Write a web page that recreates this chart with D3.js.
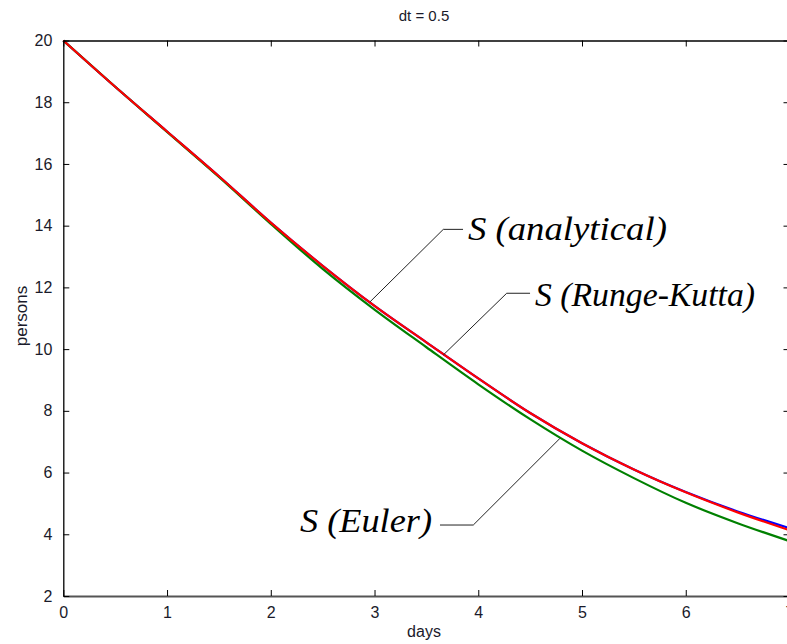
<!DOCTYPE html>
<html>
<head>
<meta charset="utf-8">
<script src="https://cdn.jsdelivr.net/npm/d3@7"></script>
<style>
  html, body { margin: 0; padding: 0; background: #fff; }
  svg { display: block; }
</style>
</head>
<body>
<svg id="chart" width="787" height="644"></svg>
<script>
// Time grid (days), step dt = 0.5
const days = [0, 0.5, 1, 1.5, 2, 2.5, 3, 3.5, 4, 4.5, 5, 5.5, 6, 6.5, 7];

// Susceptible persons S(t) for each method
const sAnalytical = [20, 18.5, 17.05, 15.6, 14.1, 12.7, 11.4, 10.22, 9.05, 7.93, 6.95, 6.10, 5.37, 4.74, 4.20];
const sRungeKutta = [20, 18.5, 17.05, 15.6, 14.1, 12.7, 11.4, 10.22, 9.05, 7.93, 6.95, 6.10, 5.36, 4.71, 4.13];
const sEuler      = [20, 18.5, 17.04, 15.58, 14.06, 12.6, 11.28, 10.06, 8.86, 7.73, 6.71, 5.82, 5.02, 4.36, 3.78];

const xTicks = [0, 1, 2, 3, 4, 5, 6, 7];
const yTicks = [2, 4, 6, 8, 10, 12, 14, 16, 18, 20];

// Callout labels: point on curve, elbow of the leader, text anchor (data units)
const callouts = [
  { text: "S (analytical)",  tip: [2.956, 11.53], elbow: [3.663, 13.88], lineEnd: [3.853, 13.88], textAt: [3.90, 13.53], anchor: "start" },
  { text: "S (Runge-Kutta)", tip: [3.663, 9.81],  elbow: [4.274, 11.81], lineEnd: [4.499, 11.81], textAt: [4.547, 11.40], anchor: "start" },
  { text: "S (Euler)",       tip: [4.788, 7.11],  elbow: [3.952, 4.30],  lineEnd: [3.631, 4.30],  textAt: [3.554, 4.09],  anchor: "end" }
];

// Rendered width of each callout label (px)
const calloutWidth = { "S (analytical)": 199, "S (Runge-Kutta)": 220, "S (Euler)": 132 };

const svg = d3.select("#chart");

const x = d3.scaleLinear().domain([0, 7]).range([63.3, 789.5]);
const y = d3.scaleLinear().domain([2, 20]).range([596, 40.5]);

const xLeft = x(0), xRight = x(7), yBottom = y(2), yTop = y(20);
const tickLen = 6;
const sansFont = 'Arial, "Liberation Sans", sans-serif';

// Plot curves: analytical underneath, then Euler, then Runge-Kutta on top
const line = d3.line().x(d => x(d[0])).y(d => y(d[1])).curve(d3.curveMonotoneX);
const series = [
  { values: sAnalytical, color: "#0000ff" },
  { values: sEuler,      color: "#008000" },
  { values: sRungeKutta, color: "#ff0000" }
];
svg.append("g").selectAll("path").data(series).join("path")
  .attr("d", s => line(days.map((t, i) => [t, s.values[i]])))
  .attr("fill", "none")
  .attr("stroke", s => s.color)
  .attr("stroke-width", 2.2)
  .attr("stroke-linejoin", "round");

// Axes (inward ticks on all four sides, box style)
const axBottom = svg.append("g").attr("transform", `translate(0,${yBottom})`)
  .call(d3.axisBottom(x).tickValues(xTicks).tickFormat(d3.format("d")).tickSizeInner(-tickLen).tickSizeOuter(0).tickPadding(11));
axBottom.select(".domain").attr("stroke", "#555").attr("stroke-width", 2);
axBottom.selectAll(".tick line").attr("stroke", "#000");

const axTop = svg.append("g").attr("transform", `translate(0,${yTop})`)
  .call(d3.axisTop(x).tickValues(xTicks).tickFormat("").tickSizeInner(-tickLen).tickSizeOuter(0));
axTop.select(".domain").attr("stroke", "#000").attr("stroke-width", 1.3);

const axLeft = svg.append("g").attr("transform", `translate(${xLeft},0)`)
  .call(d3.axisLeft(y).tickValues(yTicks).tickFormat(d3.format("d")).tickSizeInner(-tickLen).tickSizeOuter(0).tickPadding(11));
axLeft.select(".domain").attr("stroke", "#000").attr("stroke-width", 1.3);

const axRight = svg.append("g").attr("transform", `translate(${xRight},0)`)
  .call(d3.axisRight(y).tickValues(yTicks).tickFormat("").tickSizeInner(-tickLen).tickSizeOuter(0));
axRight.select(".domain").attr("stroke", "#000").attr("stroke-width", 1.3);

svg.selectAll(".tick text")
  .attr("font-size", 16)
  .attr("font-family", sansFont)
  .attr("fill", "#1a1a2a");

// Title and axis labels
svg.append("text").attr("x", 424).attr("y", 21).attr("text-anchor", "middle")
  .attr("font-family", sansFont).attr("font-size", 15).attr("fill", "#1a1a2a").text("dt = 0.5");
svg.append("text").attr("x", 424).attr("y", 637).attr("text-anchor", "middle")
  .attr("font-family", sansFont).attr("font-size", 16).attr("fill", "#1a1a2a").text("days");
svg.append("text").attr("transform", "translate(27,316) rotate(-90)").attr("text-anchor", "middle")
  .attr("font-family", sansFont).attr("font-size", 17).attr("fill", "#1a1a2a").text("persons");

// Callout leaders and labels
const cg = svg.append("g");
callouts.forEach(c => {
  cg.append("polyline")
    .attr("points", [c.tip, c.elbow, c.lineEnd].map(p => `${x(p[0])},${y(p[1])}`).join(" "))
    .attr("fill", "none").attr("stroke", "#222").attr("stroke-width", 1);
  cg.append("text")
    .attr("x", x(c.textAt[0])).attr("y", y(c.textAt[1]))
    .attr("text-anchor", c.anchor)
    .attr("font-family", '"Liberation Serif", "Times New Roman", serif')
    .attr("font-style", "italic")
    .attr("font-size", 33)
    .attr("textLength", calloutWidth[c.text])
    .attr("lengthAdjust", "spacingAndGlyphs")
    .attr("fill", "#000")
    .text(c.text);
});
</script>
</body>
</html>
